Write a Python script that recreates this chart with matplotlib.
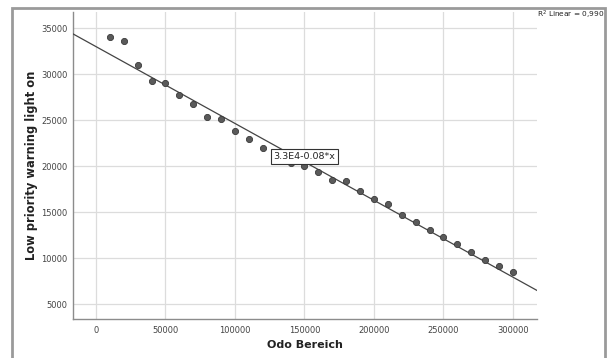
import numpy as np
import matplotlib
matplotlib.use("Agg")
import matplotlib.pyplot as plt
from matplotlib.patches import Rectangle

odo = [10000, 20000, 30000, 40000, 50000, 60000, 70000, 80000, 90000, 100000,
       110000, 120000, 130000, 140000, 150000, 160000, 170000, 180000, 190000, 200000,
       210000, 220000, 230000, 240000, 250000, 260000, 270000, 280000, 290000, 300000]
warn = [34050, 33550, 31000, 29270, 29000, 27700, 26700, 25330, 25070, 23840,
        22930, 21990, 21000, 20360, 20000, 19310, 18480, 18330, 17260, 16410,
        15830, 14670, 13950, 13010, 12320, 11520, 10650, 9820, 9130, 8510]
xticks = [0, 50000, 100000, 150000, 200000, 250000, 300000]
yticks = [5000, 10000, 15000, 20000, 25000, 30000, 35000]
fit_label = "3.3E4-0.08*x"
r2_label = "R$^2$ Linear = 0,990"

plt.rcParams['font.family'] = ['DejaVu Sans']
fig = plt.figure(figsize=(6.08, 3.58), dpi=100)
ax = fig.add_axes([73/608, 1-319/358, (537-73)/608, (319-12)/358])

xmin, xmax = -16500, 317300
ymin, ymax = 3370, 36740
ax.set_xlim(xmin, xmax)
ax.set_ylim(ymin, ymax)

x = np.array(odo, float)
y = np.array(warn, float)
slope, intercept = np.polyfit(x, y, 1)
xl = np.array([xmin, xmax])
ax.plot(xl, intercept + slope * xl, color='#444444', lw=0.9, zorder=3)
ax.scatter(x, y, s=20, color='#5a5a5a', edgecolor='#3a3a3a', linewidth=0.6, zorder=4)

ax.set_xticks(xticks)
ax.set_yticks(yticks)
ax.set_xticklabels([str(t) for t in xticks])
ax.set_yticklabels([str(t) for t in yticks])
ax.tick_params(axis='x', length=0, labelsize=6, colors='#444444', pad=5)
ax.tick_params(axis='y', length=0, labelsize=6, colors='#444444', pad=4)
ax.grid(True, color='#dcdcdc', lw=0.9)
ax.set_axisbelow(True)
for s in ['top', 'right']:
    ax.spines[s].set_visible(False)
for s in ['left', 'bottom']:
    ax.spines[s].set_color('#8c8c8c')
    ax.spines[s].set_linewidth(1.0)

ax.set_xlabel("Odo Bereich", fontsize=8, fontweight='bold', color='#222222', labelpad=4)
ax.set_ylabel("Low priority warning light on", fontsize=8.3, fontweight='bold', color='#222222', labelpad=2)

ax.text(150000, 21010, fit_label, fontsize=6.8, ha='center', va='center',
        color='#222222', zorder=6,
        bbox=dict(boxstyle='square,pad=0.3', fc='white', ec='#333333', lw=0.8))

fig.text(604/608, 1-15/358, r2_label, fontsize=5.3, ha='right', va='center', color='#222222')

fig.patches.append(Rectangle((12/608, -0.05), (605-12)/608, 1.05-8/358, transform=fig.transFigure,
                             fill=False, ec='#9a9a9a', lw=2.0))

fig.savefig("out.png", dpi=100)
